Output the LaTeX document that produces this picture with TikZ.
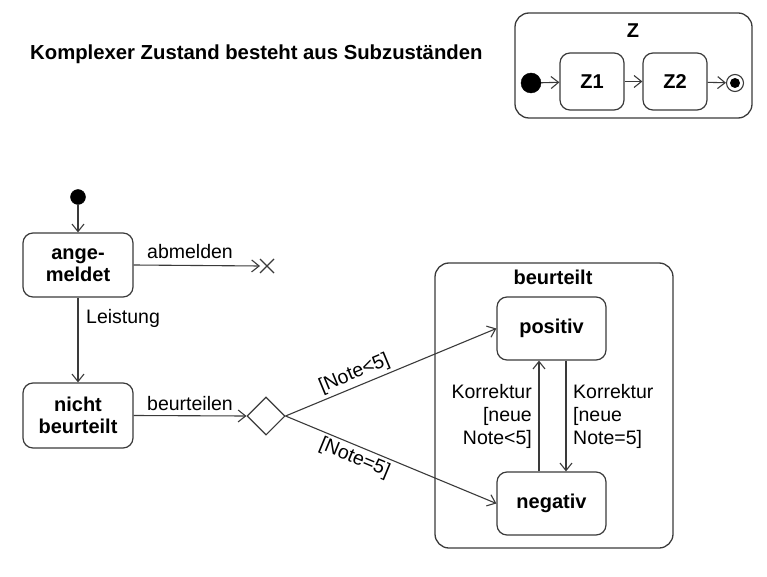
\documentclass[tikz,border=0pt]{standalone}
\usepackage{fontspec}
\setmainfont{Liberation Sans}
\usetikzlibrary{arrows.meta,shapes.geometric}
\definecolor{ln}{HTML}{3A3A3A}
\tikzset{
  x=1pt,y=-1pt,
  every node/.style={font=\fontsize{19.5}{22}\selectfont, inner sep=0pt},
  stbox/.style={draw=ln, line width=1.2pt, rounded corners=10pt, font=\fontsize{20}{22}\selectfont\bfseries, align=center},
  outerbox/.style={draw=ln, line width=1.3pt, rounded corners=14pt},
  conn/.style={draw=ln, line width=1.1pt, -{Straight Barb[length=7.5pt,width=12pt,line width=1.1pt]}},
  lbl/.style={font=\fontsize{19.5}{23}\selectfont},
  initdot/.style={circle, fill=black, draw=black},
}
\begin{document}
\begin{tikzpicture}
\useasboundingbox (0,0) rectangle (767,577);
% title
\node[font=\fontsize{20.3}{22}\selectfont\bfseries, anchor=west] (title) at (30,54) {Komplexer Zustand besteht aus Subzuständen};
% Z composite
\node[outerbox, minimum width=237pt, minimum height=105pt] (Z) at (633.5,65.5) {};
\node[font=\fontsize{20}{22}\selectfont\bfseries] (Zl) at (633,31) {Z};
\node[initdot, minimum size=20pt] (zi) at (531,83) {};
\node[stbox, minimum width=64pt, minimum height=57pt] (Z1) at (592,81.5) {Z1};
\node[stbox, minimum width=64pt, minimum height=57pt] (Z2) at (675,81.5) {Z2};
\node[circle, draw=ln, line width=1.1pt, minimum size=17pt] (zf) at (735,83) {};
\node[circle, fill=black, minimum size=10pt] (zfi) at (735,83) {};
\draw[conn] (zi) -- (Z1);
\draw[conn] (Z1) -- (Z2);
\draw[conn] (Z2) -- (zf);
% lower diagram
\node[initdot, minimum size=15pt] (ini) at (78,197) {};
\node[stbox, minimum width=110pt, minimum height=64pt] (ang) at (78,265) {ange-\\meldet};
\node[stbox, minimum width=110pt, minimum height=65pt] (nb) at (78,415.5) {nicht\\beurteilt};
\coordinate (x) at (260,266);
\draw[ln, line width=1.1pt] (260,259) -- (274,273) (260,273) -- (274,259);
\draw[conn] (ini) -- (ang);
\draw[conn] (ang.east) -- (x);
\node[lbl] (abm) at (190,252) {abmelden};
\draw[conn] (ang) -- (nb);
\node[lbl, anchor=west] (lei) at (86,318) {Leistung};
\node[diamond, draw=ln, line width=1.1pt, minimum width=38pt, minimum height=38pt] (dec) at (266,416) {};
\draw[conn] (nb.east) -- (dec.west);
\node[lbl] (beu) at (190,404) {beurteilen};
% beurteilt composite
\node[outerbox, minimum width=238pt, minimum height=285pt] (B) at (554,405.5) {};
\node[font=\fontsize{20}{22}\selectfont\bfseries] (Bl) at (553,277) {beurteilt};
\node[stbox, minimum width=109pt, minimum height=63pt] (pos) at (551.5,328.5) {positiv};
\node[stbox, minimum width=109pt, minimum height=63pt] (neg) at (551.5,503.5) {negativ};
\draw[conn] (dec.east) -- node[pos=0.35, sloped, above=3pt, lbl] (g1) {[Note<5]} (pos.west);
\draw[conn] (dec.east) -- node[pos=0.35, sloped, below=3pt, lbl] (g2) {[Note=5]} (neg.west);
\draw[conn] (neg.north -| 539,0) -- (pos.south -| 539,0);
\draw[conn] (pos.south -| 566,0) -- (neg.north -| 566,0);
\node[lbl, align=right, anchor=east] (k1) at (532,416) {Korrektur\\{}[neue\\Note<5]};
\node[lbl, align=left, anchor=west] (k2) at (573,416) {Korrektur\\{}[neue\\Note=5]};
\end{tikzpicture}
\end{document}
